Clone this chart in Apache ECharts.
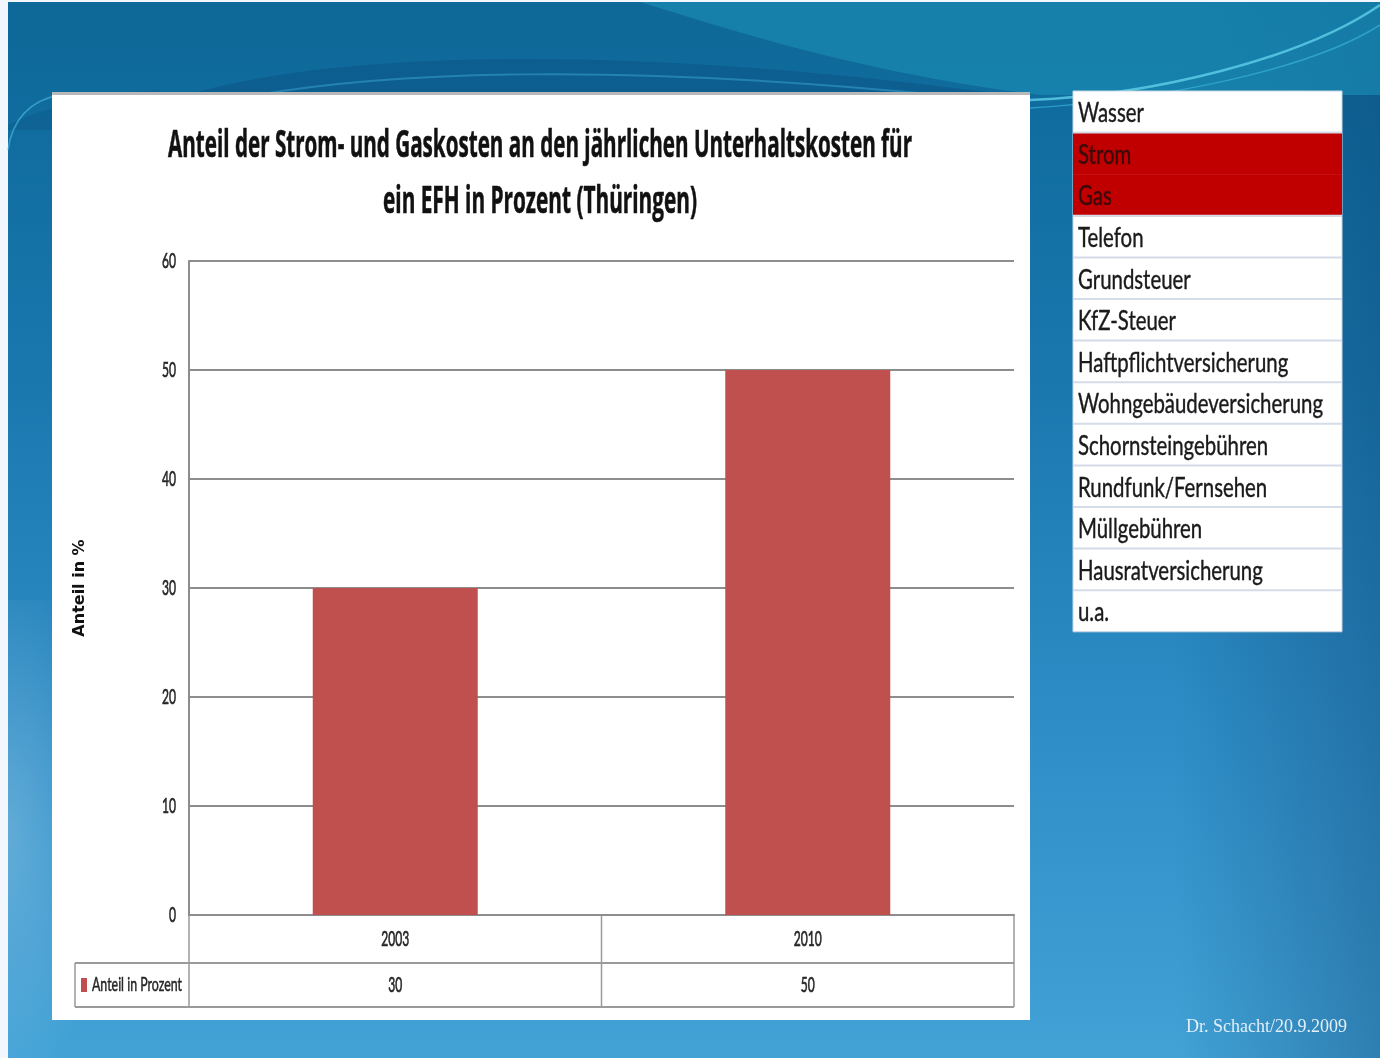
<!DOCTYPE html>
<html><head><meta charset="utf-8">
<script src="https://cdn.jsdelivr.net/npm/echarts@6/dist/echarts.min.js"></script>
<style>
html,body{margin:0;padding:0;width:1380px;height:1058px;overflow:hidden;background:#f1f7fc;}
#bg{position:absolute;left:0;top:0;}
#chart{position:absolute;left:0;top:0;width:1380px;height:1058px;}
</style></head><body>
<svg id="bg" width="1380" height="1058">
<defs>
<linearGradient id="gv" x1="0" y1="0" x2="0" y2="1">
 <stop offset="0" stop-color="#0e6898"/>
 <stop offset="0.1" stop-color="#106c9e"/>
 <stop offset="0.35" stop-color="#1a77ae"/>
 <stop offset="0.7" stop-color="#2f8ec7"/>
 <stop offset="1" stop-color="#42a2d6"/>
</linearGradient>
<linearGradient id="gh" x1="0" y1="0" x2="1" y2="0">
 <stop offset="0" stop-color="#0a3f6e" stop-opacity="0"/>
 <stop offset="0.85" stop-color="#0a3f6e" stop-opacity="0"/>
 <stop offset="1" stop-color="#0a3f6e" stop-opacity="0.35"/>
</linearGradient>
<radialGradient id="glow" cx="0" cy="0.5" r="0.6">
 <stop offset="0" stop-color="#ffffff" stop-opacity="0.22"/>
 <stop offset="1" stop-color="#ffffff" stop-opacity="0"/>
</radialGradient>
</defs>
<rect x="8" y="2" width="1372" height="1056" fill="url(#gv)"/>
<rect x="8" y="2" width="1372" height="1056" fill="url(#gh)"/>
<rect x="8" y="600" width="160" height="458" fill="url(#glow)"/>
<path d="M640 2 C 760 40, 880 75, 1040 95 L 1380 95 L 1380 2 Z" fill="#1a8ab2" opacity="0.7"/>
<path d="M8 125 C 60 100, 120 92, 160 90 L 160 130 L 8 130 Z" fill="#0b5283" opacity="0.35"/>
<path d="M140 112 C 280 50, 600 40, 1010 95 L 1010 112 Z" fill="#0b5283" opacity="0.5"/>
<path d="M 240 98 C 390 70, 620 64, 940 95" stroke="#3fb0d8" stroke-width="2" fill="none" opacity="0.45"/>
<path d="M 1030 100 C 1150 95, 1300 60, 1380 5" stroke="#5fd0ea" stroke-width="2.5" fill="none" opacity="0.8"/>
<path d="M 1030 108 C 1160 100, 1310 70, 1380 25" stroke="#3fb9dd" stroke-width="1.5" fill="none" opacity="0.6"/>
<path d="M8 150 C 12 120, 30 100, 60 95" stroke="#4fc0e0" stroke-width="1.5" fill="none" opacity="0.6"/>
</svg>
<div id="chart"></div>
<script>
// ---- data ----
const categories = ['2003', '2010'];
const seriesName = 'Anteil in Prozent';
const values = [30, 50];
const yMin = 0, yMax = 60, yInterval = 10;
const yTickLabels = ['0', '10', '20', '30', '40', '50', '60'];
const yAxisName = 'Anteil in %';
const titleLines = ['Anteil der Strom- und Gaskosten an den jährlichen Unterhaltskosten für', 'ein EFH in Prozent (Thüringen)'];
const costItems = ['Wasser', 'Strom', 'Gas', 'Telefon', 'Grundsteuer', 'KfZ-Steuer', 'Haftpflichtversicherung', 'Wohngebäudeversicherung', 'Schornsteingebühren', 'Rundfunk/Fernsehen', 'Müllgebühren', 'Hausratversicherung', 'u.a.'];
const highlightedItems = ['Strom', 'Gas'];
const footerText = 'Dr. Schacht/20.9.2009';

// ---- styles ----
const BAR = '#c0504d';
const GRIDC = '#8d8d8d';
const mctx = document.createElement('canvas').getContext('2d');
function tw(s, font) { mctx.font = font; return mctx.measureText(s).width; }
// narrow (horizontally compressed) label font, like the squeezed chart picture
const NFONT = '22px Lato, "Open Sans", sans-serif';
const NSCALE = 14 / tw('60', NFONT);

const chart = echarts.init(document.getElementById('chart'), null, { renderer: 'canvas' });
chart.setOption({
  backgroundColor: 'transparent',
  animation: false,
  grid: { left: 189, top: 261, width: 825, height: 654, containLabel: false },
  xAxis: {
    type: 'category', data: categories,
    axisLine: { lineStyle: { color: GRIDC, width: 2 } },
    axisTick: { show: false },
    axisLabel: { show: false }
  },
  yAxis: {
    type: 'value', min: yMin, max: yMax, interval: yInterval,
    name: yAxisName, nameLocation: 'middle', nameGap: 101, nameRotate: 90,
    nameTextStyle: { fontFamily: 'DejaVu Sans', fontWeight: 'bold', fontSize: 16, color: '#111' },
    axisLine: { show: true, lineStyle: { color: GRIDC, width: 2 } },
    axisTick: { show: false },
    splitLine: { lineStyle: { color: GRIDC, width: 2 } },
    axisLabel: { show: false }
  },
  series: [{
    type: 'bar', name: seriesName, data: values, barWidth: '40%',
    itemStyle: { color: BAR }
  }]
});

// ---- derived positions through the axes ----
const c0 = chart.convertToPixel({ xAxisIndex: 0 }, 0);
const c1 = chart.convertToPixel({ xAxisIndex: 0 }, 1);
const band = c1 - c0;
const xL = c0 - band / 2, xR = c1 + band / 2, xM = c0 + band / 2;
const y0 = chart.convertToPixel({ yAxisIndex: 0 }, yMin);
const y1 = y0 + 48, y2 = y1 + 44;
const legendX = 75;

const G = [];
function ntext(t, x, y, align) {
  G.push({ type: 'text', x: x, y: y, scaleX: NSCALE,
    style: { text: t, font: NFONT, fill: '#262626', stroke: '#262626', lineWidth: 0.7, align: align, verticalAlign: 'middle' } });
}
// white chart panel
G.push({ type: 'rect', z: -20, shape: { x: 52, y: 92, width: 978, height: 928 }, style: { fill: '#ffffff' } });
G.push({ type: 'rect', z: -19, shape: { x: 52, y: 92, width: 978, height: 3 }, style: { fill: '#b8b8b8' } });
// title
const TFONT = 'bold 38px "Open Sans", Lato, sans-serif';
const titleW = [744, 314];
const titleY = [146, 202];
titleLines.forEach((t, i) => {
  G.push({ type: 'text', x: 540, y: titleY[i], scaleX: titleW[i] / tw(t, TFONT),
    style: { text: t, font: TFONT, fill: '#111', stroke: '#111', lineWidth: 0.6, align: 'center', verticalAlign: 'middle' } });
});
// y tick labels, placed by the value axis
yTickLabels.forEach(t => {
  ntext(t, xL - 13, chart.convertToPixel({ yAxisIndex: 0 }, Number(t)), 'right');
});
// category labels (first table row), placed by the category axis
categories.forEach((c, i) => {
  ntext(c, chart.convertToPixel({ xAxisIndex: 0 }, i), (y0 + y1) / 2, 'center');
});
// data table
const LC = '#9a9a9a';
function ln(x1, yA, x2, yB, w) { G.push({ type: 'line', shape: { x1: x1, y1: yA, x2: x2, y2: yB }, style: { stroke: LC, lineWidth: w || 1.5 } }); }
[xL, xM, xR].forEach(x => ln(x, y0, x, y2));
ln(legendX, y1, xR, y1, 2);
ln(legendX, y2, xR, y2, 2);
ln(legendX, y1, legendX, y2);
values.forEach((v, i) => {
  ntext(String(v), chart.convertToPixel({ xAxisIndex: 0 }, i), (y1 + y2) / 2, 'center');
});
G.push({ type: 'rect', shape: { x: legendX + 6, y: (y1 + y2) / 2 - 7, width: 6, height: 14 }, style: { fill: BAR } });
const LGFONT = '19px Lato, "Open Sans", sans-serif';
G.push({ type: 'text', x: legendX + 17, y: (y1 + y2) / 2, scaleX: 90 / tw(seriesName, LGFONT),
  style: { text: seriesName, font: LGFONT, fill: '#262626', stroke: '#262626', lineWidth: 0.5, align: 'left', verticalAlign: 'middle' } });

// right list of cost items
const LX = 1073, LY = 91, LW = 269, LH = 41.6;
G.push({ type: 'rect', z: -5, shape: { x: LX, y: LY, width: LW, height: LH * costItems.length }, style: { fill: '#ffffff', stroke: '#c9d6e4', lineWidth: 1 } });
const LFONT = '26px Lato, "Open Sans", sans-serif';
const lScale = 245 / tw('Wohngebäudeversicherung', LFONT);
costItems.forEach((t, i) => {
  const top = LY + i * LH;
  const hl = highlightedItems.indexOf(t) >= 0;
  if (hl) G.push({ type: 'rect', z: -4, shape: { x: LX, y: top, width: LW, height: LH + 0.5 }, style: { fill: '#c00000' } });
  if (i > 0 && !(hl && highlightedItems.indexOf(costItems[i - 1]) >= 0)) {
    G.push({ type: 'line', z: -3, shape: { x1: LX, y1: top, x2: LX + LW, y2: top }, style: { stroke: '#d3dce8', lineWidth: 2 } });
  }
  G.push({ type: 'text', x: LX + 5, y: top + LH / 2 + 2, scaleX: lScale,
    style: { text: t, font: LFONT, fill: hl ? '#3a0a0a' : '#1a1a1a', stroke: hl ? '#3a0a0a' : '#1a1a1a', lineWidth: 0.4, align: 'left', verticalAlign: 'middle' } });
});
// footer
G.push({ type: 'text', x: 1347, y: 1027, style: { text: footerText, font: '18px "Liberation Serif", "DejaVu Serif", serif', fill: '#e3eff8', align: 'right', verticalAlign: 'middle' } });

chart.setOption({ graphic: G });
</script>
</body></html>
